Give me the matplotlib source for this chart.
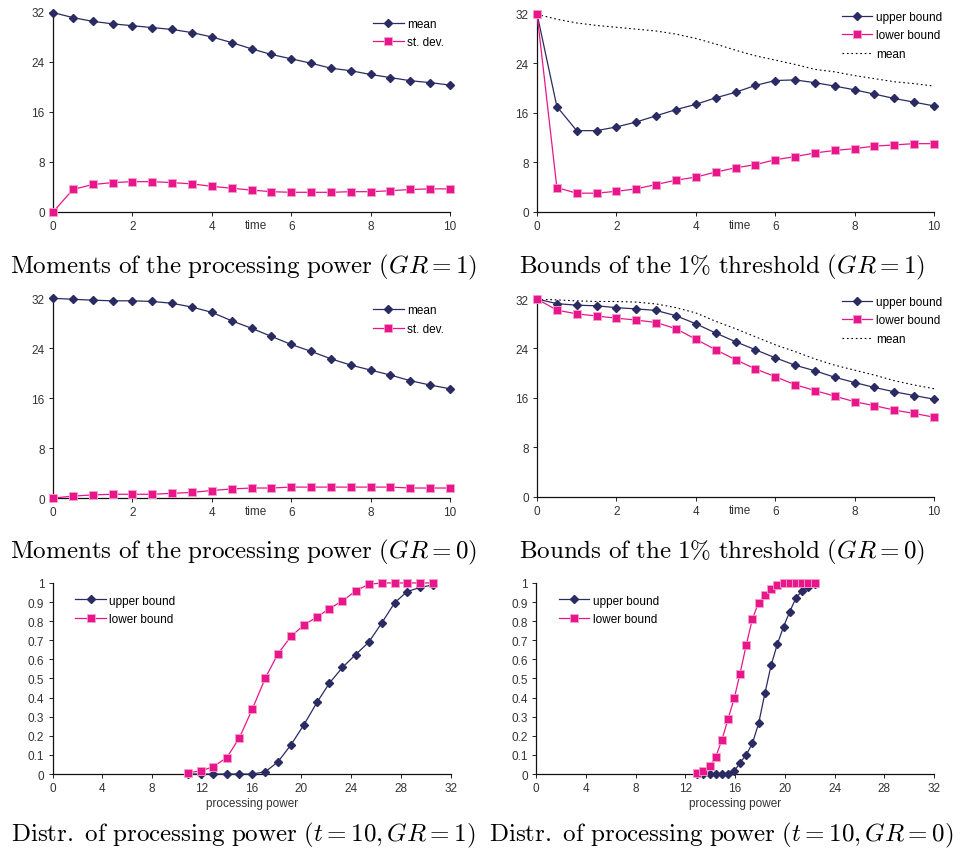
import matplotlib
matplotlib.use("Agg")
import matplotlib.pyplot as plt

plt.rcParams['font.family'] = ['Liberation Sans', 'DejaVu Sans']
plt.rcParams['mathtext.fontset'] = 'cm'

NAVY = '#2b2b63'
PINK = '#e8168a'

# time axis for the top four panels
time = [0, 0.5, 1, 1.5, 2, 2.5, 3, 3.5, 4, 4.5, 5, 5.5, 6, 6.5, 7, 7.5, 8, 8.5, 9, 9.5, 10]

# GR = 1
mean_gr1 = [31.9, 31.1, 30.5, 30.1, 29.8, 29.5, 29.2, 28.7, 28.0, 27.1, 26.1,
            25.2, 24.5, 23.8, 23.0, 22.6, 22.0, 21.5, 21.0, 20.7, 20.3]
std_gr1 = [0.0, 3.6, 4.4, 4.7, 4.85, 4.85, 4.7, 4.5, 4.1, 3.8, 3.5,
           3.25, 3.15, 3.15, 3.15, 3.25, 3.25, 3.4, 3.6, 3.7, 3.7]
upper_gr1 = [32.0, 17.0, 13.1, 13.1, 13.7, 14.5, 15.5, 16.5, 17.35, 18.4, 19.3,
             20.4, 21.2, 21.3, 20.85, 20.3, 19.7, 19.0, 18.3, 17.7, 17.1]
lower_gr1 = [32.0, 3.9, 3.0, 3.0, 3.3, 3.7, 4.4, 5.1, 5.6, 6.4, 7.1,
             7.6, 8.4, 8.9, 9.5, 9.9, 10.2, 10.6, 10.8, 11.0, 11.0]

# GR = 0
mean_gr0 = [32.0, 31.85, 31.7, 31.6, 31.6, 31.5, 31.2, 30.6, 29.75, 28.4, 27.2,
            25.9, 24.6, 23.5, 22.3, 21.3, 20.5, 19.7, 18.8, 18.1, 17.5]
std_gr0 = [0.0, 0.3, 0.5, 0.6, 0.6, 0.6, 0.75, 0.9, 1.2, 1.45, 1.6,
           1.6, 1.75, 1.75, 1.75, 1.75, 1.75, 1.75, 1.6, 1.6, 1.6]
upper_gr0 = [32.0, 31.25, 31.0, 30.9, 30.6, 30.4, 30.15, 29.3, 28.0, 26.5, 25.1,
             23.8, 22.5, 21.3, 20.4, 19.35, 18.5, 17.7, 17.0, 16.4, 15.8]
lower_gr0 = [32.0, 30.2, 29.6, 29.25, 28.9, 28.6, 28.2, 27.2, 25.5, 23.8, 22.2,
             20.7, 19.45, 18.15, 17.2, 16.3, 15.4, 14.75, 14.05, 13.5, 12.9]

# distributions at t = 10
power_gr1 = [10.85, 11.9, 12.9, 14.0, 15.0, 16.05, 17.1, 18.1, 19.15, 20.2,
             21.25, 22.25, 23.3, 24.35, 25.4, 26.45, 27.5, 28.5, 29.55, 30.6]
cdf_upper_gr1 = [0.0, 0.0, 0.0, 0.0, 0.0, 0.0, 0.012, 0.063, 0.152, 0.258,
                 0.375, 0.476, 0.558, 0.625, 0.689, 0.79, 0.897, 0.955, 0.977, 0.99]
cdf_lower_gr1 = [0.007, 0.016, 0.038, 0.086, 0.188, 0.34, 0.503, 0.628, 0.72, 0.78,
                 0.822, 0.866, 0.906, 0.958, 0.993, 1.0, 1.0, 1.0, 1.0, 1.0]

power_gr0 = [12.95, 13.45, 13.95, 14.45, 14.95, 15.45, 15.95, 16.4, 16.9, 17.4,
             17.9, 18.4, 18.9, 19.4, 19.9, 20.4, 20.9, 21.4, 21.9, 22.4]
cdf_upper_gr0 = [0.0, 0.0, 0.0, 0.0, 0.0, 0.0, 0.017, 0.058, 0.101, 0.161,
                 0.265, 0.422, 0.569, 0.679, 0.771, 0.85, 0.921, 0.96, 0.98, 0.995]
cdf_lower_gr0 = [0.007, 0.017, 0.04, 0.09, 0.18, 0.29, 0.4, 0.525, 0.675, 0.813,
                 0.897, 0.939, 0.967, 0.991, 1.0, 1.0, 1.0, 1.0, 1.0, 1.0]

captions = [
    r'$\mathrm{Moments\ of\ the\ processing\ power\ }(GR=1)$',
    r'$\mathrm{Bounds\ of\ the\ 1\%\ threshold\ }(GR=1)$',
    r'$\mathrm{Moments\ of\ the\ processing\ power\ }(GR=0)$',
    r'$\mathrm{Bounds\ of\ the\ 1\%\ threshold\ }(GR=0)$',
    r'$\mathrm{Distr.\ of\ processing\ power\ }(t=10, GR=1)$',
    r'$\mathrm{Distr.\ of\ processing\ power\ }(t=10, GR=0)$',
]

FS = 8.5


def style_axes(ax):
    for s in ['top', 'right']:
        ax.spines[s].set_visible(False)
    for s in ['left', 'bottom']:
        ax.spines[s].set_color('#111111')
        ax.spines[s].set_linewidth(0.9)
    ax.tick_params(direction='out', length=3, width=0.7, colors='#222222',
                   labelsize=FS, labelcolor='#333333', pad=3)


def upper_line(ax, x, y, label):
    ax.plot(x, y, color=NAVY, lw=0.9, marker='D', ms=4, mfc=NAVY, mec=NAVY,
            label=label, clip_on=False, zorder=3)


def lower_line(ax, x, y, label):
    ax.plot(x, y, color=PINK, lw=0.9, marker='s', ms=5.5, mfc=PINK, mec='#f5a0cc',
            mew=0.6, label=label, clip_on=False, zorder=4)


def time_panel(ax, upper, lower, mean=None, labels=('mean', 'st. dev.')):
    style_axes(ax)
    upper_line(ax, time, upper, labels[0])
    lower_line(ax, time, lower, labels[1])
    if mean is not None:
        ax.plot(time, mean, color='black', lw=0.8, ls=(0, (1.5, 2.5)), label='mean')
    ax.set_xlim(0, 10)
    ax.set_ylim(0, 32)
    ax.set_xticks([0, 2, 4, 6, 8, 10])
    ax.set_yticks([0, 8, 16, 24, 32])
    ax.text(5.1, -0.035, 'time', transform=ax.get_xaxis_transform(), ha='center',
            va='top', fontsize=FS, color='#333333')
    anchor = (1.0, 1.0) if mean is None else (1.035, 1.045)
    ax.legend(loc='upper right', bbox_to_anchor=anchor, frameon=False, fontsize=FS,
              handlelength=2.6, borderaxespad=0.1, labelspacing=0.55, handletextpad=0.3)


def dist_panel(ax, x, upper, lower):
    style_axes(ax)
    upper_line(ax, x, upper, 'upper bound')
    lower_line(ax, x, lower, 'lower bound')
    ax.set_xlim(0, 32)
    ax.set_ylim(0, 1)
    ax.set_xticks([0, 4, 8, 12, 16, 20, 24, 28, 32])
    ax.set_yticks([0, 0.1, 0.2, 0.3, 0.4, 0.5, 0.6, 0.7, 0.8, 0.9, 1])
    ax.set_yticklabels(['0', '0.1', '0.2', '0.3', '0.4', '0.5', '0.6', '0.7', '0.8', '0.9', '1'])
    ax.set_xlabel('processing power', fontsize=FS, color='#333333', labelpad=2)
    ax.legend(loc='upper left', bbox_to_anchor=(0.03, 0.995), frameon=False,
              fontsize=FS, handlelength=2.6, labelspacing=0.55, handletextpad=0.3)


fig = plt.figure(figsize=(9.61, 8.53), dpi=100)

ax1 = fig.add_axes([0.0552, 0.7503, 0.4131, 0.2345])
ax2 = fig.add_axes([0.5588, 0.7506, 0.4131, 0.2322])
ax3 = fig.add_axes([0.0552, 0.4150, 0.4131, 0.2341])
ax4 = fig.add_axes([0.5588, 0.4162, 0.4131, 0.2321])
ax5 = fig.add_axes([0.0548, 0.0914, 0.4142, 0.2240])
ax6 = fig.add_axes([0.5578, 0.0914, 0.4141, 0.2240])

time_panel(ax1, mean_gr1, std_gr1)
time_panel(ax2, upper_gr1, lower_gr1, mean=mean_gr1, labels=('upper bound', 'lower bound'))
time_panel(ax3, mean_gr0, std_gr0)
time_panel(ax4, upper_gr0, lower_gr0, mean=mean_gr0, labels=('upper bound', 'lower bound'))
dist_panel(ax5, power_gr1, cdf_upper_gr1, cdf_lower_gr1)
dist_panel(ax6, power_gr0, cdf_upper_gr0, cdf_lower_gr0)

cap_pos = [(0.253, 0.686), (0.751, 0.686), (0.253, 0.352), (0.751, 0.352),
           (0.253, 0.021), (0.751, 0.021)]
for (cx, cy), txt in zip(cap_pos, captions):
    fig.text(cx, cy, txt, ha='center', va='center', fontsize=18)

fig.savefig('out.png', dpi=100)
